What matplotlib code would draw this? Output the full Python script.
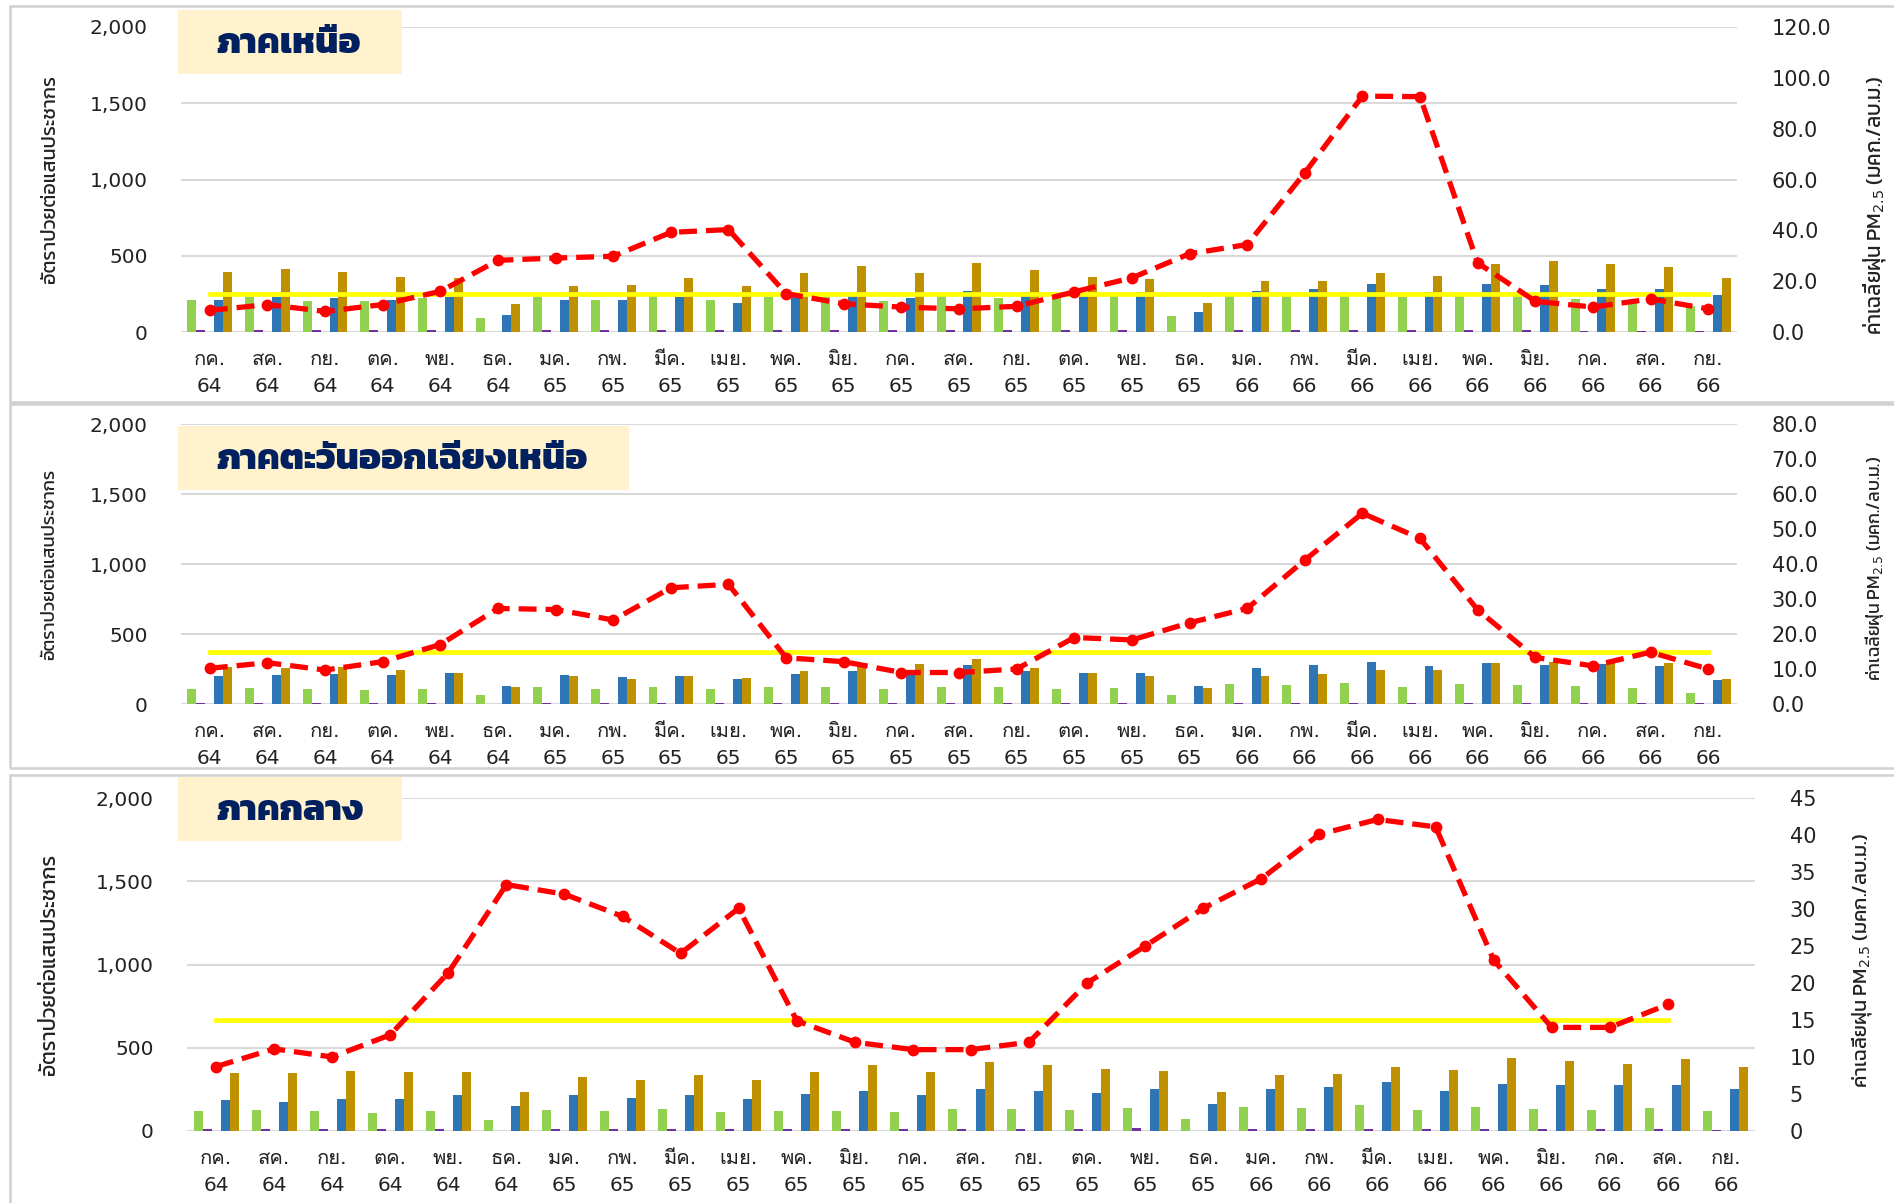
import numpy as np
import matplotlib
matplotlib.use('Agg')
import matplotlib.pyplot as plt
from matplotlib.patches import Rectangle
from matplotlib.ticker import FuncFormatter

# ---- data ----
months = ['กค.', 'สค.', 'กย.', 'ตค.', 'พย.', 'ธค.', 'มค.', 'กพ.', 'มีค.', 'เมย.', 'พค.', 'มิย.',
          'กค.', 'สค.', 'กย.', 'ตค.', 'พย.', 'ธค.', 'มค.', 'กพ.', 'มีค.', 'เมย.', 'พค.', 'มิย.',
          'กค.', 'สค.', 'กย.']
years = ['64', '64', '64', '64', '64', '64', '65', '65', '65', '65', '65', '65',
         '65', '65', '65', '65', '65', '65', '66', '66', '66', '66', '66', '66',
         '66', '66', '66']

north_green = [212, 228, 206, 201, 225, 92, 228, 212, 239, 208, 228, 228, 206, 245, 223, 228, 241, 107,
               243, 239, 263, 228, 249, 263, 217, 201, 173]
north_purple = [10, 10, 10, 10, 15, 0, 10, 10, 10, 10, 10, 10, 10, 10, 10, 10, 15, 0,
                15, 15, 15, 10, 10, 10, 8, 8, 6]
north_blue = [208, 228, 223, 212, 230, 114, 208, 208, 228, 193, 234, 239, 223, 271, 265, 256, 265, 129,
              271, 284, 317, 263, 317, 311, 284, 284, 245]
north_gold = [392, 416, 396, 359, 354, 184, 304, 306, 354, 304, 387, 431, 387, 453, 407, 359, 348, 193,
              337, 337, 385, 370, 449, 464, 449, 424, 354]
north_pm = [8.5, 10.8, 8.1, 10.8, 16.0, 28.2, 29.1, 29.8, 39.2, 40.3, 15.1, 11.1, 9.8, 9.1, 10.1, 15.8,
            21.3, 30.8, 34.4, 62.6, 92.8, 92.6, 27.2, 12.1, 9.8, 13.0, 9.1]

ne_green = [107, 114, 107, 100, 107, 62, 119, 107, 124, 107, 119, 119, 107, 124, 119, 107, 112, 62,
            140, 133, 148, 124, 140, 133, 129, 114, 76]
ne_purple = [8, 8, 8, 8, 8, 0, 8, 8, 8, 8, 8, 8, 8, 10, 10, 8, 10, 0,
             10, 10, 10, 8, 8, 8, 8, 6, 6]
ne_blue = [200, 207, 212, 207, 219, 131, 207, 193, 202, 181, 214, 233, 224, 279, 238, 219, 224, 129,
           260, 276, 300, 271, 290, 279, 283, 274, 171]
ne_gold = [267, 260, 267, 243, 219, 119, 198, 181, 202, 186, 233, 293, 283, 321, 260, 224, 202, 114,
           202, 217, 243, 243, 290, 302, 290, 295, 181]
ne_pm = [10.2, 11.8, 9.7, 12.1, 17.0, 27.3, 27.0, 24.0, 33.2, 34.2, 13.2, 12.1, 9.0, 9.0, 10.0, 19.0,
         18.3, 23.2, 27.3, 41.1, 54.5, 47.3, 26.9, 13.3, 10.9, 14.8, 10.0]

central_green = [119, 125, 119, 109, 119, 66, 127, 119, 133, 113, 123, 123, 113, 133, 133, 127, 139, 70,
                 143, 139, 155, 129, 145, 133, 129, 139, 119]
central_purple = [10, 10, 10, 10, 10, 0, 10, 10, 10, 10, 10, 12, 10, 12, 12, 12, 16, 0,
                  12, 12, 10, 10, 10, 10, 10, 10, 8]
central_blue = [185, 175, 191, 191, 217, 149, 217, 201, 217, 191, 223, 243, 217, 253, 243, 227, 253, 161,
                253, 263, 295, 243, 285, 279, 275, 279, 253]
central_gold = [346, 346, 362, 356, 356, 233, 326, 306, 336, 306, 356, 398, 356, 414, 398, 372, 362, 237,
                336, 342, 386, 368, 440, 420, 404, 430, 386]
central_pm = [8.7, 11.1, 10.0, 13.0, 21.4, 33.3, 32.0, 29.0, 24.0, 30.1, 14.9, 12.0, 11.0, 11.0, 12.0, 20.0,
              25.0, 30.1, 34.1, 40.1, 42.1, 41.1, 23.1, 14.0, 14.0, 17.1]

pm_standard = 15

# DejaVu for digits, Loma (Tahoma-like) for the Thai month names
plt.rcParams['font.family'] = ['DejaVu Sans', 'Loma']
plt.rcParams['mathtext.fontset'] = 'dejavusans'

W, H = 1894, 1203
fig = plt.figure(figsize=(W / 100, H / 100), dpi=100)


def fx(px):
    return px / W


def fy(py):
    return 1 - py / H


# panel frames
for top, bottom in [(6, 402), (404, 768), (775, 1215)]:
    fig.add_artist(Rectangle((fx(10), fy(bottom)), fx(1900 - 10), (bottom - top) / H,
                             transform=fig.transFigure, fill=False, ec='#D0D0D0', lw=1.8))


def panel(left, right, top, bottom, title, box_right, box_top, green, purple, blue, gold, pm,
          pm_max, pm_step, pm_fmt, lab_size, rlab_x, rlab_y, rlab_size):
    ax = fig.add_axes([fx(left), fy(bottom), fx(right - left), (bottom - top) / H])
    x = np.arange(len(months))
    w = 0.155
    ax.bar(x - 2 * w, green, w, color='#92D050', zorder=2)
    ax.bar(x - w, purple, w, color='#7030A0', zorder=2)
    ax.bar(x + w, blue, w, color='#2E75B6', zorder=2)
    ax.bar(x + 2 * w, gold, w, color='#BF9000', zorder=2)
    ax.set_xlim(-0.5, len(months) - 0.5)
    ax.set_ylim(0, 2000)
    ax.set_yticks(range(0, 2001, 500))
    ax.yaxis.set_major_formatter(FuncFormatter(lambda v, p: f'{int(v):,}'))
    ax.grid(axis='y', color='#D9D9D9', lw=1.5, zorder=0)
    ax.set_axisbelow(True)
    for s in ax.spines.values():
        s.set_visible(False)
    ax.set_xticks(x)
    ax.set_xticklabels([m + '\n' + y for m, y in zip(months, years)], linespacing=1.55)
    ax.tick_params(axis='y', length=0, labelsize=14.5, pad=24, labelcolor='#222222')
    ax.tick_params(axis='x', length=0, labelsize=14.5, pad=13, labelcolor='#222222')

    ax2 = ax.twinx()
    n = len(pm)
    ax2.plot(x[:n], [pm_standard] * n, color='#FFFF00', lw=3.4, zorder=3)
    ax2.plot(x[:n], pm, color='#FF0000', lw=3.8, ls=(0, (3.4, 1.7)), marker='o', ms=7.5,
             zorder=4)
    ax2.set_ylim(0, pm_max)
    ax2.set_yticks(np.arange(0, pm_max + 0.01, pm_step))
    ax2.yaxis.set_major_formatter(FuncFormatter(lambda v, p: pm_fmt.format(v)))
    for s in ax2.spines.values():
        s.set_visible(False)
    ax2.tick_params(axis='y', length=0, labelsize=15, pad=25, labelcolor='#222222')

    # title box
    fig.add_artist(Rectangle((fx(178), fy(box_top + 64)), fx(box_right - 178), 64 / H,
                             transform=fig.transFigure, color='#FFF2CC', lw=0, zorder=5))
    fig.text(fx(216), fy(box_top + 34), title, fontsize=26, family='Kanit', fontweight=800,
             color='#002060', va='center', ha='left', zorder=6)

    # axis labels
    mid = (top + bottom) / 2
    fig.text(fx(50), fy(mid), 'อัตราป่วยต่อแสนประชากร', rotation=90, fontsize=lab_size,
             family='Kanit', fontweight=400, color='#222222', ha='center', va='center')
    fig.text(fx(rlab_x), fy(rlab_y), 'ค่าเฉลี่ยฝุ่น PM$_{2.5}$ (มคก./ลบ.ม.)', rotation=90,
             fontsize=rlab_size, family='Kanit', fontweight=400, color='#222222',
             ha='center', va='center')
    return ax


panel(181, 1737, 27, 332, 'ภาคเหนือ', 402, 10, north_green, north_purple, north_blue, north_gold,
      north_pm, 120, 20, '{:.1f}', 14.3, 1874, 205, 14.8)
panel(181, 1737, 424, 704, 'ภาคตะวันออกเฉียงเหนือ', 629, 426, ne_green, ne_purple, ne_blue,
      ne_gold, ne_pm, 80, 10, '{:.1f}', 13.2, 1874, 568, 12.8)
panel(187, 1755, 798, 1131, 'ภาคกลาง', 402, 777, central_green, central_purple, central_blue,
      central_gold, central_pm, 45, 5, '{:.0f}', 15.3, 1862, 960, 14.5)

fig.savefig('out.png', dpi=100)
